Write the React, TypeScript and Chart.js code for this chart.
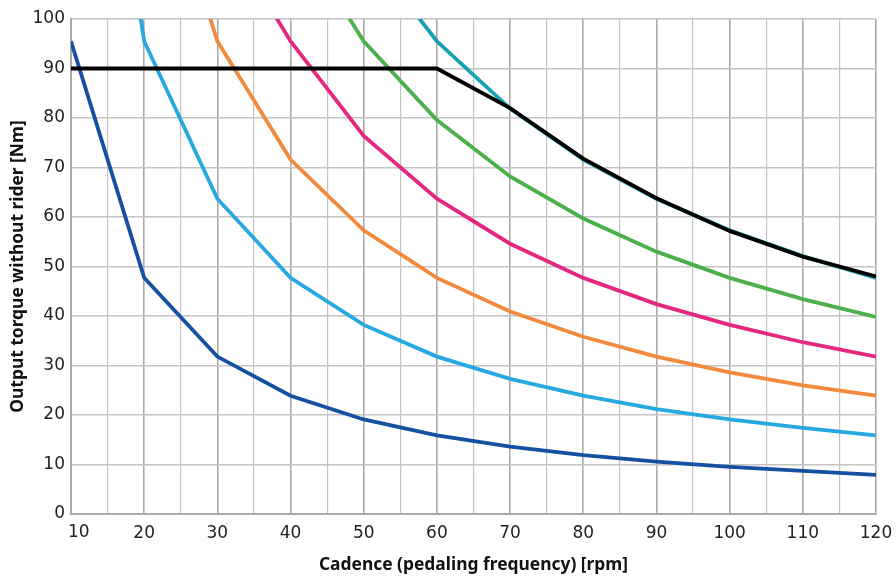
import React, { useEffect, useRef } from 'react';
import { Chart, registerables } from 'chart.js';

Chart.register(...registerables);

// Cadence values (rpm)
const cadence = [10, 20, 30, 40, 50, 60, 70, 80, 90, 100, 110, 120];

// Output torque curves [Nm] (null = not defined at that cadence)
const curveBlue = [95.5, 47.7, 31.8, 23.9, 19.1, 15.9, 13.6, 11.9, 10.6, 9.5, 8.7, 7.9];
const curveLightBlue = [191, 95.5, 63.7, 47.7, 38.2, 31.8, 27.3, 23.9, 21.2, 19.1, 17.4, 15.9];
const curveOrange = [null, 143, 95.5, 71.6, 57.3, 47.7, 40.9, 35.8, 31.8, 28.6, 26.0, 23.9];
const curvePink = [null, null, 120, 95.5, 76.4, 63.7, 54.6, 47.7, 42.4, 38.2, 34.7, 31.8];
const curveGreen = [null, null, null, 119, 95.5, 79.6, 68.2, 59.7, 53.0, 47.7, 43.4, 39.8];
const curveTeal = [null, null, null, null, 114.6, 95.5, 81.9, 71.6, 63.7, 57.3, 52.1, 47.7];
const curveLimit = [90, 90, 90, 90, 90, 90, 82.0, 71.8, 63.8, 57.2, 52.0, 48.0];

// Axis labels
const xTitle = 'Cadence (pedaling frequency) [rpm]';
const yTitle = 'Output torque without rider [Nm]';

const toPoints = (vals: (number | null)[]) =>
  cadence
    .map((c, i) => (vals[i] === null ? null : { x: c, y: vals[i] as number }))
    .filter((p) => p !== null) as { x: number; y: number }[];

const tickFont = { family: 'DejaVu Sans', size: 17 };
const titleFont = { family: 'Noto Sans', size: 17.4, weight: 'bold' as const };

export default function App() {
  const ref = useRef<HTMLCanvasElement | null>(null);

  useEffect(() => {
    document.body.style.margin = '0';
    const canvas = ref.current;
    if (!canvas) return;

    const firstLabelPlugin = {
      id: 'firstLabel',
      afterDraw(chart: any) {
        const xs = chart.scales.x;
        const ctx = chart.ctx;
        ctx.save();
        ctx.font = `${tickFont.size}px ${tickFont.family}`;
        ctx.fillStyle = '#222';
        ctx.textAlign = 'left';
        ctx.textBaseline = 'middle';
        ctx.fillText(String(cadence[0]), xs.getPixelForValue(cadence[0]) - 3, chart.chartArea.bottom + 19);
        ctx.restore();
      },
    };

    const mk = (label: string, vals: (number | null)[], color: string) => ({
      label,
      data: toPoints(vals),
      borderColor: color,
      backgroundColor: color,
      borderWidth: 3.8,
      pointRadius: 0,
      tension: 0,
      fill: false,
      clip: 0,
    });

    const chart = new Chart(canvas, {
      type: 'line',
      data: {
        datasets: [
          mk('limit', curveLimit, '#000000'),
          mk('blue', curveBlue, '#1650a0'),
          mk('lightblue', curveLightBlue, '#27a8e0'),
          mk('orange', curveOrange, '#f18a3d'),
          mk('pink', curvePink, '#e5287f'),
          mk('green', curveGreen, '#4caf4c'),
          mk('teal', curveTeal, '#13a2b2'),
        ] as any,
      },
      plugins: [firstLabelPlugin],
      options: {
        responsive: false,
        animation: false,
        layout: { padding: { top: 19, right: 20, bottom: 0, left: 0 } },
        plugins: { legend: { display: false }, tooltip: { enabled: false } },
        scales: {
          x: {
            type: 'linear',
            min: 10,
            max: 120,
            afterFit: (s: any) => {
              s.height = 65;
              s.paddingRight = 0;
              s.paddingLeft = 0;
            },
            border: { color: '#aaaaaa', width: 2 },
            grid: {
              drawTicks: false,
              color: (c: any) => (c.tick && c.tick.value % 10 === 0 ? '#aaaaaa' : '#c4c4c4'),
              lineWidth: (c: any) => (c.tick && c.tick.value % 10 === 0 ? 1.6 : 1.2),
            },
            ticks: {
              stepSize: 5,
              autoSkip: false,
              maxRotation: 0,
              padding: 9,
              color: '#222',
              font: tickFont,
              callback: (v: any) => (v % 10 === 0 && v !== cadence[0] ? String(v) : ''),
            },
            title: {
              display: true,
              text: xTitle,
              color: '#111',
              font: titleFont,
              padding: { top: 0, bottom: 4 },
            },
          },
          y: {
            type: 'linear',
            min: 0,
            max: 100,
            afterFit: (s: any) => {
              s.width = 71;
            },
            border: { color: '#aaaaaa', width: 2 },
            grid: { drawTicks: false, color: '#c4c4c4', lineWidth: 1.5 },
            ticks: { stepSize: 10, padding: 6, color: '#222', font: tickFont },
            title: {
              display: true,
              text: yTitle,
              color: '#111',
              font: titleFont,
              padding: { top: 8, bottom: 0 },
            },
          },
        },
      } as any,
    });
    return () => chart.destroy();
  }, []);

  return (
    <div style={{ width: 896, height: 579 }}>
      <canvas ref={ref} width={896} height={579} />
    </div>
  );
}
